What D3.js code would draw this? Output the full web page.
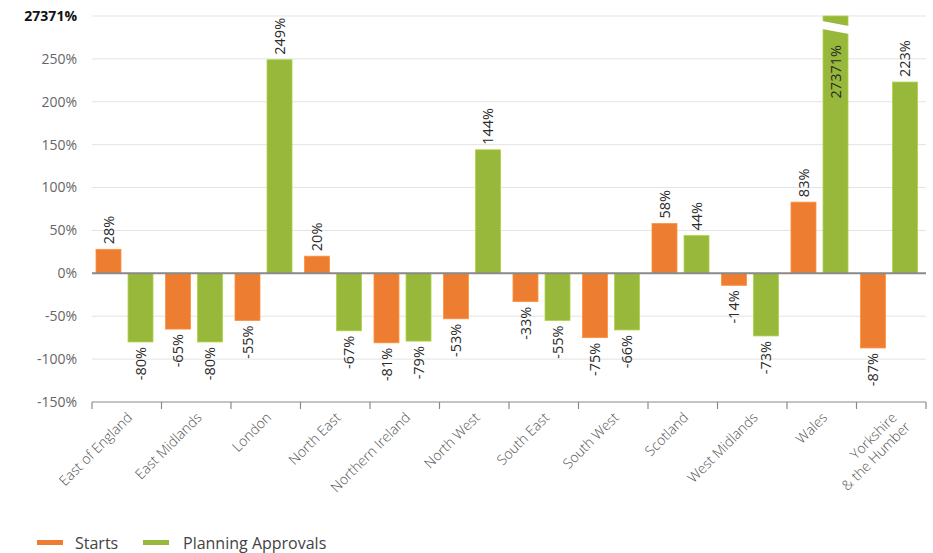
<!DOCTYPE html>
<html><head><meta charset="utf-8">
<script src="https://cdn.jsdelivr.net/npm/d3@7"></script>
<style>body{margin:0;background:#fff;}svg{display:block;font-family:"Open Sans",sans-serif;}</style>
</head><body><svg id="c" width="933" height="553"></svg>
<script>
const categories = ["East of England","East Midlands","London","North East","Northern Ireland","North West","South East","South West","Scotland","West Midlands","Wales","Yorkshire\n& the Humber"];
const series = ["Starts","Planning Approvals"];
const starts = [28,-65,-55,20,-81,-53,-33,-75,58,-14,83,-87];
const approvals = [-80,-80,249,-67,-79,144,-55,-66,44,-73,27371,223];
const yTicks = [-150,-100,-50,0,50,100,150,200,250];
const topTickLabel = "27371%";
const colors = ["#ED7D31","#97B83A"];

const svg = d3.select("#c");
const pLeft = 92, pRight = 926, pTop = 16, pBottom = 402;
const y = d3.scaleLinear().domain([-150,300]).range([pBottom, pTop]);
const x0 = d3.scaleBand().domain(categories).range([pLeft, pRight]);
const x1 = d3.scaleBand().domain(series).range([0, x0.bandwidth()]).paddingInner(0.22).paddingOuter(0.195).align(0.32);

// gridlines
svg.append("g").selectAll("line").data(yTicks.filter(d=>d>-150).concat([300])).join("line")
  .attr("x1", pLeft).attr("x2", pRight).attr("y1", d=>y(d)).attr("y2", d=>y(d))
  .attr("stroke", "#e3e3e3").attr("stroke-width", 1);

// y labels
svg.append("g").selectAll("text").data(yTicks).join("text")
  .attr("x", 77).attr("y", d=>y(d)).attr("dy","0.35em").attr("text-anchor","end")
  .attr("font-size", 14).attr("fill", "#666").text(d=>d+"%");
svg.append("text").attr("x", 77).attr("y", y(300)).attr("dy","0.35em").attr("text-anchor","end")
  .attr("font-size", 14).attr("font-weight","bold").attr("fill","#111").text(topTickLabel);

const data = categories.map((c,i)=>({c, vals:[starts[i], approvals[i]]}));
const clip = v => Math.max(-150, Math.min(300, v));

const groups = svg.append("g").selectAll("g").data(data).join("g")
  .attr("transform", d=>`translate(${x0(d.c)},0)`);
groups.selectAll("rect").data(d=>d.vals.map((v,j)=>({v, s:series[j], j}))).join("rect")
  .attr("x", d=>x1(d.s)).attr("width", x1.bandwidth())
  .attr("y", d=>y(Math.max(0, clip(d.v)))).attr("height", d=>Math.abs(y(clip(d.v))-y(0)))
  .attr("fill", d=>colors[d.j]).attr("stroke", d=>d3.color(colors[d.j]).brighter(0.4)).attr("stroke-width",0.8);

// value labels
groups.selectAll("text").data(d=>d.vals.map((v,j)=>({v, s:series[j], j}))).join("text")
  .attr("transform", d=>{
    const cx = x1(d.s) + x1.bandwidth()/2;
    let yy;
    if (d.v > 300) yy = y(300) + 29;
    else if (d.v >= 0) yy = y(d.v) - 5;
    else yy = y(d.v) + 5;
    return `translate(${cx},${yy}) rotate(-90)`;
  })
  .attr("text-anchor", d=> (d.v >= 0 && d.v <= 300) ? "start" : "end")
  .attr("dy","0.35em").attr("font-size", 14.5).attr("fill","#2a2a2a")
  .text(d=>d.v+"%");

// break marker on clipped bars
groups.each(function(d){
  d.vals.forEach((v,j)=>{
    if (v > 300) {
      const bx = x1(series[j]) - 1, bw = x1.bandwidth() + 2;
      d3.select(this).append("path")
        .attr("d", `M${bx},${y(300)+5} L${bx+bw},${y(300)+10} L${bx+bw},${y(300)+18} L${bx},${y(300)+13} Z`)
        .attr("fill","#fff");
    }
  });
});

// zero line
svg.append("line").attr("x1", pLeft).attr("x2", pRight).attr("y1", y(0)).attr("y2", y(0))
  .attr("stroke","#8a8a8a").attr("stroke-width",2);

// bottom axis
svg.append("line").attr("x1", pLeft).attr("x2", pRight).attr("y1", pBottom).attr("y2", pBottom)
  .attr("stroke","#8a8a8a").attr("stroke-width",1.2);
const bounds = categories.map(c=>x0(c)).concat([pRight]);
svg.append("g").selectAll("line").data(bounds).join("line")
  .attr("x1", d=>d).attr("x2", d=>d).attr("y1", pBottom).attr("y2", pBottom+7)
  .attr("stroke","#8a8a8a").attr("stroke-width",1.2);

// category labels
const xl = svg.append("g").selectAll("text").data(categories).join("text")
  .attr("transform", c=>`translate(${x0(c)+x0.bandwidth()/2+3},${pBottom+13}) rotate(-45)`)
  .attr("text-anchor","end").attr("font-size",14).attr("font-weight",300).attr("fill","#555");
xl.each(function(c){
  const lines = c.split("\n");
  const t = d3.select(this);
  lines.forEach((l,i)=>{
    t.append("tspan").attr("x", i===0 ? 0 : 3).attr("dy", i===0 ? "0.35em" : "1.15em").text(l);
  });
});

// legend
const leg = svg.append("g");
[[37,75],[143,183]].forEach((p,i)=>{
  leg.append("rect").attr("x",p[0]).attr("y",540).attr("width",26).attr("height",5).attr("fill",colors[i]);
  leg.append("text").attr("x",p[1]).attr("y",543).attr("dy","0.35em").attr("font-size",16).attr("fill","#444").text(series[i]);
});
</script></body></html>
